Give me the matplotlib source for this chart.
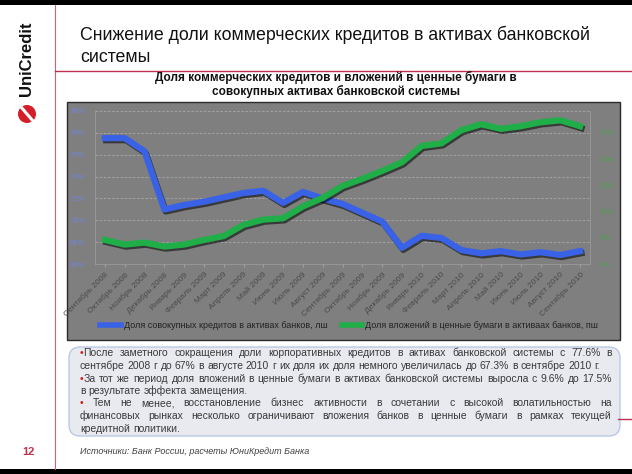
import matplotlib
matplotlib.use('Agg')
import matplotlib.pyplot as plt
import matplotlib.patheffects as pe
from matplotlib.patches import Rectangle, FancyBboxPatch, Circle
from matplotlib.lines import Line2D

plt.rcParams['font.family'] = ['Liberation Sans', 'DejaVu Sans']

# Данные графика
months = ['Сентябрь 2008', 'Октябрь 2008', 'Ноябрь 2008', 'Декабрь 2008',
          'Январь 2009', 'Февраль 2009', 'Март 2009', 'Апрель 2009', 'Май 2009',
          'Июнь 2009', 'Июль 2009', 'Август 2009', 'Сентябрь 2009', 'Октябрь 2009',
          'Ноябрь 2009', 'Декабрь 2009', 'Январь 2010', 'Февраль 2010', 'Март 2010',
          'Апрель 2010', 'Май 2010', 'Июнь 2010', 'Июль 2010', 'Август 2010',
          'Сентябрь 2010']
loans = [77.5, 77.5, 76.3, 71.0, 71.4, 71.7, 72.1, 72.5, 72.7, 71.6, 72.6, 72.0, 71.5,
         70.7, 69.9, 67.5, 68.6, 68.4, 67.3, 67.0, 67.2, 66.9, 67.1, 66.85, 67.2]
securities = [8.85, 8.5, 8.65, 8.35, 8.5, 8.85, 9.15, 10.0, 10.4, 10.5, 11.4, 12.05, 12.95,
              13.5, 14.1, 14.75, 16.0, 16.2, 17.2, 17.65, 17.3, 17.5, 17.8, 17.95, 17.5]
left_ticks = [66, 68, 70, 72, 74, 76, 78, 80]
right_ticks = [7, 9, 11, 13, 15, 17]
legend_labels = ['Доля совокупных кредитов в активах банков, лш',
                 'Доля вложений в ценные бумаги в активаах банков, пш']

W, H = 632, 474
BLUE = '#3a62e6'
GREEN = '#1fae48'
PANEL = '#7f7f7f'
RED = '#c0304f'


def fx(x):
    return x / W


def fy(y):
    return 1 - y / H


fig = plt.figure(figsize=(W / 100, H / 100), dpi=100)
fig.patch.set_facecolor('white')

# фон слайда в пиксельных координатах
bg = fig.add_axes([0, 0, 1, 1], zorder=-5)
bg.set_xlim(0, W)
bg.set_ylim(H, 0)
bg.axis('off')

bg.add_patch(Rectangle((0, 0), W, 5, fc='black', ec='none'))
bg.add_patch(Rectangle((0, H - 5), W, 5, fc='black', ec='none'))
bg.plot([55, 55], [5, H - 5], color='#cf6276', lw=0.8)
bg.plot([55, W], [71, 71], color=RED, lw=1.0)
bg.plot([618, W], [419, 419], color=RED, lw=1.0)

# логотип
bg.text(27, 59, 'UniCredit', rotation=90, ha='center', va='center',
        fontsize=12, fontweight='bold', color='#111111')
bg.add_patch(Circle((27, 114), 9, fc='#d41f2b', ec='none'))
bg.plot([21, 33], [107, 121], color='white', lw=2.2)
bg.text(28, 452, '12', ha='center', va='center', fontsize=8, fontweight='bold', color=RED)

# серая панель графика
bg.add_patch(Rectangle((66.5, 102), 620 - 66.5, 238, fc=PANEL, ec='#2a2a2a', lw=1))

# блок с комментариями
bg.add_patch(FancyBboxPatch((69, 347), 620 - 69, 436 - 347,
                            boxstyle='round,pad=0,rounding_size=11',
                            fc='#e8eaf0', ec='#b4c4e4', lw=0.9))

# заголовки
fig.text(fx(80), fy(35), 'Снижение доли коммерческих кредитов в активах банковской',
         fontsize=12.8, color='#111111', va='center')
fig.text(fx(80), fy(57), 'системы', fontsize=12.8, color='#111111', va='center')
fig.text(fx(336), fy(77), 'Доля коммерческих кредитов и вложений в ценные бумаги в',
         ha='center', va='center', fontsize=8.5, fontweight='bold', color='#111111')
fig.text(fx(336), fy(91), 'совокупных активах банковской системы',
         ha='center', va='center', fontsize=8.5, fontweight='bold', color='#111111')

ax = fig.add_axes([fx(95), fy(264.3), 495 / W, 153.6 / H])
ax.patch.set_visible(False)
x = list(range(len(months)))
shadow = [pe.SimpleLineShadow(offset=(1, -1.5), shadow_color='black', alpha=0.55), pe.Normal()]

ax.plot(x, loans, color=BLUE, lw=4.5, solid_joinstyle='round', path_effects=shadow)
ax.set_xlim(-0.5, 24.5)
ax.set_ylim(66, 80)
ax.set_yticks(left_ticks)
ax.set_yticklabels([f'{v}%' for v in left_ticks], fontsize=5.5, color='#7384d8')
ax.set_xticks(x)
ax.set_xticklabels(months, rotation=45, ha='right', rotation_mode='anchor',
                   fontsize=6, color='#4a4a4a')
ax.tick_params(axis='y', length=0, pad=7)
ax.tick_params(axis='x', length=2, color='#a0a0a0', pad=3)
ax.yaxis.grid(True, color='#a8a8a8', lw=0.6, ls=(0, (3, 2)))
ax.set_axisbelow(True)
for s in ['left', 'right', 'bottom']:
    ax.spines[s].set_color('#9a9a9a')
    ax.spines[s].set_linewidth(0.6)
ax.spines['top'].set_visible(False)

ax2 = ax.twinx()
ax2.plot(x, securities, color=GREEN, lw=4.5, solid_joinstyle='round', path_effects=shadow)
ax2.set_ylim(7, 18.68)
ax2.set_yticks(right_ticks)
ax2.set_yticklabels([f'{v}%' for v in right_ticks], fontsize=5.5, color='#4fa04f')
ax2.tick_params(axis='y', length=0, pad=7)
for s in ax2.spines.values():
    s.set_visible(False)

handles = [Line2D([], [], color=BLUE, lw=4), Line2D([], [], color=GREEN, lw=4)]
fig.legend(handles, legend_labels, ncol=2, loc='center left',
           bbox_to_anchor=(fx(92), fy(326)), frameon=False, fontsize=6.5,
           handlelength=2.3, handletextpad=0.3, columnspacing=1.6, labelcolor='#222222')

comment_lines = [
    ('•После заметного сокращения доли корпоративных кредитов в активах банковской системы с 77.6% в', True),
    ('сентябре 2008 г до 67% в августе 2010 г их доля их доля немного увеличилась до 67.3% в сентябре 2010 г.', False),
    ('•За тот же период доля вложений в ценные бумаги в активах банковской системы выросла с 9.6% до 17.5%', True),
    ('в результате эффекта замещения.', False),
    ('• Тем не менее, восстановление бизнес активности в сочетании с высокой волатильностью на', True),
    ('финансовых рынках несколько ограничивают вложения банков в ценные бумаги в рамках текущей', True),
    ('кредитной политики.', False),
]

renderer = fig.canvas.get_renderer()
FS = 7.5
probe = fig.text(0, 0, 'x x', fontsize=FS)
probe2 = fig.text(0, 0, 'xx', fontsize=FS)
space_w = probe.get_window_extent(renderer).width - probe2.get_window_extent(renderer).width
probe.remove()
probe2.remove()


def text_line(y, line, justify, x0=80, x1=612):
    words = []
    for w in line.split(' '):
        segs = []
        if w.startswith('•'):
            segs.append(('•', '#d02020'))
            w = w[1:]
        if w:
            segs.append((w, '#3a3a3a'))
        pieces = []
        for s, c in segs:
            t = fig.text(0, fy(y), s, color=c, fontsize=FS, va='baseline')
            pieces.append((t, t.get_window_extent(renderer).width))
        words.append(pieces)
    widths = [sum(w for _, w in p) for p in words]
    natural = sum(widths) + space_w * (len(words) - 1)
    if (justify or natural > x1 - x0) and len(words) > 1:
        gap = (x1 - x0 - sum(widths)) / (len(words) - 1)
    else:
        gap = space_w
    pos = x0
    for p in words:
        for t, w in p:
            t.set_x(fx(pos))
            pos += w
        pos += gap


for i, (line, just) in enumerate(comment_lines):
    text_line(356.5 + i * 12.5, line, just)

fig.text(fx(80), fy(452), 'Источники: Банк России, расчеты ЮниКредит Банка',
         fontsize=6.5, style='italic', color='#404040', va='center')

fig.savefig('out.png', dpi=100)
